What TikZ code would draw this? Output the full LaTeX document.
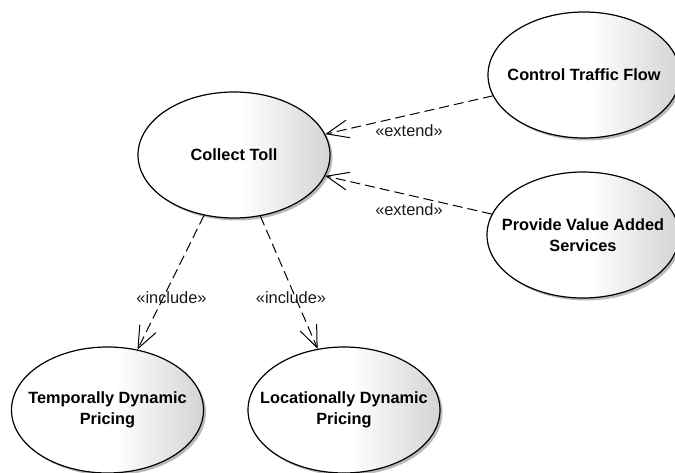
\documentclass[tikz,border=0pt]{standalone}
\usepackage{fontspec}
\setmainfont{Liberation Sans}
\usetikzlibrary{shapes.geometric,shadows,arrows.meta}

% white on the left half, fading to light grey at the right edge
\pgfdeclarehorizontalshading{usecasefill}{100bp}{%
  color(0bp)=(white); color(25bp)=(white); color(52bp)=(white);
  color(75bp)=(black!17); color(100bp)=(black!17)}

\tikzset{
  usecase/.style={
    ellipse, draw=black, line width=1.2pt,
    minimum width=192pt, minimum height=126pt,
    inner xsep=-45pt, inner ysep=0pt,
    shading=usecasefill,
    drop shadow={shadow xshift=2.5pt, shadow yshift=-2.5pt, fill=black!45, opacity=.6},
    align=center, font=\fontsize{16.3}{21}\selectfont\bfseries
  },
  relation/.style={
    draw=black, line width=1pt, dash pattern=on 10pt off 5pt,
    -{Straight Barb[length=22pt, width=18pt, line width=1pt]}
  },
  stereo/.style={font=\fontsize{16.4}{19}\selectfont, text=black!90, inner sep=1pt}
}

\begin{document}
\begin{tikzpicture}[x=1pt, y=-1pt]
  \useasboundingbox (0,0) rectangle (675,473);
  \clip (0,0) rectangle (675,473);

  % use cases
  \node[usecase] (ct)   at (234,155)   {Collect Toll};
  \node[usecase] (ctf)  at (584,75)    {Control Traffic Flow};
  \node[usecase] (pvas) at (583,235)   {Provide Value Added\\Services};
  \node[usecase] (tdp)  at (107.5,410) {Temporally Dynamic\\Pricing};
  \node[usecase] (ldp)  at (344,410)   {Locationally Dynamic\\Pricing};

  % extend relations
  \draw[relation] (ctf) -- (ct);
  \draw[relation] (pvas) -- (ct);
  % include relations
  \draw[relation] (ct) -- (tdp);
  \draw[relation] (ct) -- (ldp);

  % stereotype labels
  \node[stereo] (lx1) at (409,131)   {«extend»};
  \node[stereo] (lx2) at (409,210)   {«extend»};
  \node[stereo] (li1) at (171.5,298) {«include»};
  \node[stereo] (li2) at (291,298)   {«include»};
\end{tikzpicture}
\end{document}
